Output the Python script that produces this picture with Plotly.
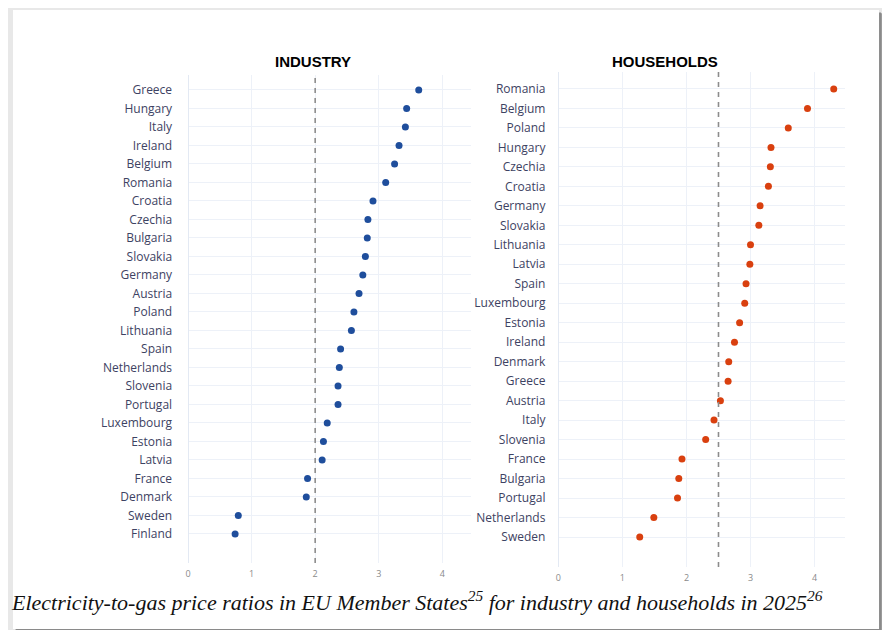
import plotly.graph_objects as go

# Electricity-to-gas price ratios, 2025
industry_countries = ["Greece", "Hungary", "Italy", "Ireland", "Belgium", "Romania", "Croatia",
                      "Czechia", "Bulgaria", "Slovakia", "Germany", "Austria", "Poland",
                      "Lithuania", "Spain", "Netherlands", "Slovenia", "Portugal", "Luxembourg",
                      "Estonia", "Latvia", "France", "Denmark", "Sweden", "Finland"]
industry_ratio = [3.63, 3.44, 3.42, 3.32, 3.25, 3.11, 2.91, 2.83, 2.82, 2.79, 2.75, 2.69, 2.61,
                  2.57, 2.40, 2.38, 2.36, 2.36, 2.19, 2.13, 2.11, 1.88, 1.86, 0.79, 0.74]

household_countries = ["Romania", "Belgium", "Poland", "Hungary", "Czechia", "Croatia", "Germany",
                       "Slovakia", "Lithuania", "Latvia", "Spain", "Luxembourg", "Estonia",
                       "Ireland", "Denmark", "Greece", "Austria", "Italy", "Slovenia", "France",
                       "Bulgaria", "Portugal", "Netherlands", "Sweden"]
household_ratio = [4.30, 3.89, 3.59, 3.32, 3.31, 3.28, 3.15, 3.13, 3.00, 2.99, 2.93, 2.91, 2.83,
                   2.75, 2.66, 2.65, 2.53, 2.43, 2.30, 1.93, 1.88, 1.86, 1.49, 1.27]

industry_ref = 2.0
household_ref = 2.5
x_ticks = [0, 1, 2, 3, 4]

# the page puts an 8px body margin round the figure, so the figure is a bit smaller
# and all positions below are in window pixels minus that offset
OFF = 8
W, H = 882, 622


def px(x):
    return (x - OFF) / W


def py(y):
    return 1 - (y - OFF) / H


fig = go.Figure()

fig.add_trace(go.Scatter(
    x=industry_ratio, y=industry_countries, mode="markers",
    marker=dict(color="#1f4e9c", size=7), xaxis="x", yaxis="y",
    showlegend=False, hoverinfo="x+y"
))
fig.add_trace(go.Scatter(
    x=household_ratio, y=household_countries, mode="markers",
    marker=dict(color="#d9400f", size=7), xaxis="x2", yaxis="y2",
    showlegend=False, hoverinfo="x+y"
))

grid = "#edf1f8"
tickfont_y = dict(family="Open Sans, DejaVu Sans, sans-serif", size=12, color="#3d4262")
tickfont_x = dict(family="Open Sans, DejaVu Sans, sans-serif", size=9, color="#8a8a8a")

common_x = dict(tickvals=x_ticks, showgrid=True, gridcolor=grid, zeroline=True,
                zerolinecolor="#e3e9f3", zerolinewidth=1, showline=False,
                tickfont=tickfont_x, ticks="", ticklabelstandoff=4, fixedrange=True)
common_y = dict(type="category", showgrid=True, gridcolor=grid, showline=False,
                tickfont=tickfont_y, ticks="", fixedrange=True)

fig.update_layout(
    width=W, height=H,
    margin=dict(l=0, r=0, t=0, b=0),
    paper_bgcolor="#e8e8e8",
    plot_bgcolor="white",
    xaxis=dict(common_x, domain=[px(185.7), px(469.4)], range=[0, 4.45], anchor="y"),
    yaxis=dict(common_y, domain=[py(563), py(75)], range=[-1.57, 24.81], ticklabelstandoff=15,
               categoryorder="array", categoryarray=industry_countries[::-1], anchor="x"),
    xaxis2=dict(common_x, domain=[px(557.3), px(845.1)], range=[0, 4.48], anchor="y2"),
    yaxis2=dict(common_y, domain=[py(567), py(72)], range=[-1.54, 23.87], ticklabelstandoff=12,
                categoryorder="array", categoryarray=household_countries[::-1], anchor="x2"),
)

# card with drop shadow on the right and bottom
shadow_layers = [(10, "#cfcfcf"), (7, "#b5b5b5"), (4, "#9c9c9c"), (2, "#8a8a8a")]
for off, col in shadow_layers:
    fig.add_shape(type="rect", xref="paper", yref="paper", layer="below",
                  x0=px(12 + off * 0.3), x1=px(879 + off), y0=py(629 + off), y1=py(12 + off * 0.3),
                  fillcolor=col, line=dict(width=0))
fig.add_shape(type="rect", xref="paper", yref="paper", layer="below",
              x0=px(10), x1=px(879), y0=py(629), y1=py(10),
              fillcolor="white", line=dict(width=0))

# reference lines
fig.add_shape(type="line", xref="x", yref="y domain", x0=industry_ref, x1=industry_ref,
              y0=0, y1=1, line=dict(color="#8c8c8c", width=1.6, dash="5px,5px"))
fig.add_shape(type="line", xref="x2", yref="y2 domain", x0=household_ref, x1=household_ref,
              y0=0, y1=1, line=dict(color="#8c8c8c", width=1.6, dash="5px,5px"))

title_font = dict(family="Liberation Sans, Arial, sans-serif", size=15, color="black")
fig.add_annotation(text="<b>INDUSTRY</b>", x=px(311), y=py(61), xref="paper", yref="paper",
                   showarrow=False, font=title_font, xanchor="center", yanchor="middle")
fig.add_annotation(text="<b>HOUSEHOLDS</b>", x=px(664), y=py(61), xref="paper", yref="paper",
                   showarrow=False, font=title_font, xanchor="center", yanchor="middle")

fig.add_annotation(
    text="<i>Electricity-to-gas price ratios in EU Member States<sup>25</sup> for industry "
         "and households in 2025<sup>26</sup></i>",
    x=px(6), y=py(601), xref="paper", yref="paper", showarrow=False,
    xanchor="left", yanchor="middle",
    font=dict(family="Liberation Serif, Times New Roman, serif", size=22, color="#111111")
)

fig.write_html("out.html")
